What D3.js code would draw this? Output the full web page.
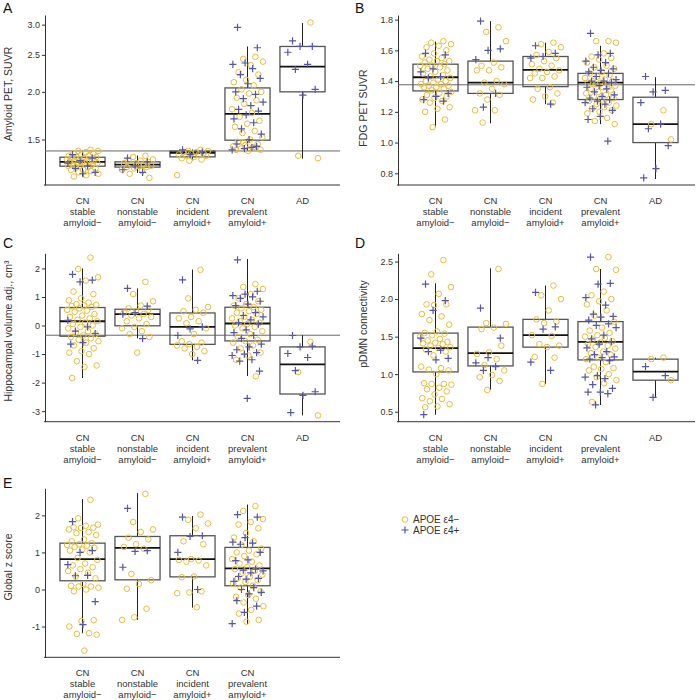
<!DOCTYPE html>
<html><head><meta charset="utf-8">
<script src="https://cdn.jsdelivr.net/npm/d3@7"></script>
<style>body{margin:0;background:#fff} svg{display:block} text{font-family:"Liberation Sans",Arial,sans-serif;fill:#333}</style>
</head><body><svg id="c" width="696" height="700"></svg>
<script>
const categories = [["CN","stable","amyloid−"],["CN","nonstable","amyloid−"],["CN","incident","amyloid+"],["CN","prevalent","amyloid+"],["AD"]];
const legendLabels = ["APOE ε4−","APOE ε4+"];

// A: Amyloid PET (log scale)
const amyloidTicks = [1.5,2.0,2.5,3.0];
const amyloidCut = 1.40;
const amyloidBox = [[1.20,1.277,1.311,1.348,1.395],[1.227,1.27,1.289,1.311,1.362],[1.322,1.351,1.385,1.398,1.412],[1.406,1.494,1.751,2.048,2.63],[1.336,2.0,2.33,2.63,3.03]];
const amyloidNeg = [
 [1.41,1.40,1.40,1.39,1.38,1.38,1.37,1.36,1.36,1.35,1.35,1.34,1.34,1.33,1.33,1.33,1.32,1.32,1.32,1.31,1.31,1.31,1.30,1.30,1.30,1.29,1.29,1.28,1.28,1.27,1.27,1.26,1.25,1.25,1.24,1.23,1.22,1.21,1.20],
 [1.36,1.35,1.33,1.32,1.32,1.31,1.30,1.30,1.29,1.29,1.28,1.28,1.27,1.27,1.26,1.25,1.24,1.22,1.19],
 [1.41,1.40,1.40,1.39,1.39,1.38,1.38,1.37,1.37,1.36,1.36,1.35,1.34,1.33,1.32,1.21],
 [2.47,2.44,2.40,2.35,2.25,2.22,2.15,2.12,2.08,2.03,2.00,1.98,1.93,1.90,1.86,1.80,1.76,1.72,1.68,1.65,1.62,1.58,1.56,1.52,1.50,1.48,1.46,1.45,1.44,1.43,1.42,1.41,1.40,1.41,1.43,1.47],
 [3.04,1.36,1.34]];
const amyloidPos = [
 [1.37,1.34,1.32,1.30,1.28,1.26,1.23,1.22],
 [1.34,1.31,1.28,1.25,1.23],
 [1.41,1.39,1.37],
 [2.95,2.61,2.38,2.36,2.30,2.22,2.17,2.10,2.00,1.97,1.92,1.88,1.84,1.80,1.78,1.74,1.70,1.66,1.60,1.55,1.50,1.46,1.44,1.42,1.41,1.43],
 [2.72,2.63,2.63,2.54,2.36,2.29,2.03,1.96]];

// B: FDG PET
const fdgTicks = [0.8,1.0,1.2,1.4,1.6,1.8];
const fdgCut = 1.376;
const fdgBox = [[1.10,1.336,1.425,1.51,1.657],[1.125,1.32,1.39,1.53,1.79],[1.25,1.364,1.473,1.56,1.65],[1.12,1.28,1.39,1.45,1.63],[0.763,1.0,1.12,1.295,1.425]];
const fdgNeg = [
 [1.66,1.65,1.64,1.63,1.62,1.60,1.58,1.56,1.55,1.54,1.53,1.53,1.52,1.51,1.50,1.50,1.49,1.48,1.47,1.46,1.45,1.44,1.43,1.42,1.41,1.40,1.40,1.39,1.38,1.38,1.37,1.37,1.36,1.36,1.35,1.34,1.33,1.32,1.31,1.30,1.29,1.28,1.27,1.26,1.23,1.22,1.20,1.15,1.10],
 [1.75,1.72,1.66,1.52,1.50,1.49,1.47,1.47,1.40,1.39,1.38,1.35,1.32,1.31,1.28,1.21,1.21,1.13],
 [1.65,1.64,1.62,1.59,1.57,1.55,1.53,1.51,1.50,1.48,1.47,1.46,1.45,1.43,1.42,1.42,1.36,1.35,1.32,1.30,1.28,1.26],
 [1.66,1.66,1.65,1.58,1.56,1.55,1.54,1.52,1.50,1.49,1.48,1.46,1.45,1.44,1.43,1.42,1.41,1.40,1.40,1.39,1.39,1.38,1.38,1.37,1.36,1.35,1.34,1.33,1.32,1.31,1.30,1.29,1.28,1.27,1.26,1.25,1.24,1.23,1.22,1.21,1.20,1.19,1.16,1.14,1.12],
 [1.21,1.12,1.02]];
const fdgPos = [
 [1.58,1.57,1.48,1.46,1.43,1.42,1.32,1.30,1.28,1.27],
 [1.79,1.61,1.60,1.54,1.32,1.23],
 [1.63,1.58,1.56,1.55,1.25],
 [1.71,1.58,1.57,1.53,1.52,1.49,1.48,1.47,1.46,1.45,1.43,1.41,1.40,1.40,1.39,1.37,1.36,1.35,1.33,1.31,1.30,1.29,1.28,1.27,1.26,1.25,1.22,1.21,1.17,1.15,1.01],
 [1.43,1.34,1.33,1.26,1.12,1.09,0.98,0.83,0.77]];

// C: Hippocampal volume
const hippoTicks = [-3,-2,-1,0,1,2];
const hippoCut = -0.34;
const hippoBox = [[-1.84,-0.375,0.15,0.63,2.0],[-0.45,-0.01,0.40,0.57,1.3],[-1.22,-0.66,-0.05,0.44,1.96],[-1.77,-0.54,0.07,0.64,2.33],[-3.15,-2.40,-1.36,-0.75,-0.34]];
const hippoNeg = [
 [2.38,1.98,1.69,1.57,1.19,1.10,0.95,0.88,0.80,0.75,0.73,0.70,0.68,0.65,0.60,0.55,0.52,0.48,0.40,0.35,0.30,0.25,0.20,0.15,0.10,0.05,0.0,-0.05,-0.10,-0.20,-0.25,-0.30,-0.35,-0.40,-0.45,-0.50,-0.55,-0.60,-0.70,-0.80,-0.90,-0.95,-1.00,-1.25,-1.40,-1.45,-1.84],
 [1.53,1.10,0.85,0.70,0.60,0.55,0.50,0.45,0.40,0.35,0.30,0.25,0.15,0.05,-0.05,-0.10,-0.20,-0.30,-0.40,-0.95],
 [1.95,0.95,0.65,0.55,0.50,0.45,0.30,0.25,0.15,0.08,-0.10,-0.30,-0.55,-0.60,-0.65,-0.70,-0.75,-0.80,-0.90,-1.00],
 [1.45,1.35,1.28,1.10,0.95,0.85,0.75,0.70,0.65,0.60,0.55,0.50,0.45,0.40,0.30,0.25,0.20,0.15,0.10,0.05,0.0,-0.05,-0.10,-0.20,-0.30,-0.40,-0.50,-0.55,-0.60,-0.70,-0.80,-0.95,-1.05,-1.20,-1.78],
 [-0.57,-1.63,-3.15]];
const hippoPos = [
 [1.79,1.59,1.53,0.18,-0.05,-0.20,-0.28,-0.60,-0.65],
 [1.30,0.68,0.45,0.40,-0.46],
 [1.60,-0.05,-0.12,-0.35,-1.22],
 [2.30,1.20,1.10,1.05,1.00,0.95,0.85,0.75,0.70,0.45,0.35,0.30,0.20,0.10,0.05,-0.15,-0.25,-0.35,-0.45,-0.65,-0.75,-0.85,-0.95,-1.00,-1.05,-1.20,-1.25,-1.60,-2.55],
 [-0.35,-0.72,-0.75,-0.98,-1.12,-1.58,-2.32,-2.45,-3.05]];

// D: pDMN connectivity
const dmnTicks = [0.5,1.0,1.5,2.0,2.5];
const dmnBox = [[0.46,1.03,1.347,1.547,2.21],[0.79,1.11,1.28,1.627,2.41],[0.87,1.36,1.52,1.73,2.18],[0.59,1.19,1.43,1.70,2.40],[0.69,0.92,1.035,1.20,1.22]];
const dmnNeg = [
 [2.52,2.33,2.16,2.07,1.93,1.93,1.92,1.80,1.77,1.72,1.66,1.57,1.55,1.54,1.52,1.50,1.47,1.45,1.43,1.42,1.41,1.40,1.38,1.36,1.35,1.33,1.30,1.25,1.10,1.08,1.06,1.05,1.00,0.88,0.87,0.87,0.86,0.82,0.80,0.77,0.73,0.68,0.67,0.64,0.60,0.57,0.56],
 [2.40,1.68,1.67,1.62,1.60,1.38,1.29,1.27,1.20,1.12,1.05,0.99,0.96,0.91,0.79],
 [2.18,2.05,2.00,1.85,1.73,1.70,1.68,1.52,1.51,1.40,1.38,1.36,1.23,1.22,0.87],
 [2.56,2.40,2.39,2.10,2.05,2.00,1.97,1.93,1.85,1.78,1.70,1.62,1.58,1.55,1.52,1.50,1.48,1.46,1.44,1.42,1.40,1.38,1.36,1.34,1.30,1.28,1.26,1.22,1.20,1.16,1.10,1.08,1.07,1.05,1.00,0.96,0.92,0.88,0.63],
 [1.22,1.20,0.92]];
const dmnPos = [
 [2.20,1.98,1.85,1.48,1.32,1.30,1.21,1.19,0.46],
 [1.88,1.48,1.22,1.15,1.10,1.05],
 [2.09,1.63,1.60,1.16,1.05],
 [2.56,2.21,2.20,2.02,1.92,1.80,1.77,1.76,1.72,1.67,1.65,1.62,1.52,1.47,1.43,1.40,1.35,1.30,1.26,1.23,1.22,1.20,1.18,0.98,0.96,0.94,0.86,0.81,0.76,0.76,0.74,0.59],
 [1.10,0.98,0.69]];

// E: Global z score
const zTicks = [-1,0,1,2];
const zBox = [[-1.18,0.235,0.82,1.25,2.44],[-0.82,0.26,1.12,1.43,2.6],[-0.49,0.34,0.82,1.45,1.98],[-0.93,0.10,0.57,1.135,2.29]];
const zNeg = [
 [2.42,1.92,1.75,1.72,1.68,1.67,1.66,1.62,1.55,1.52,1.47,1.35,1.30,1.25,1.22,1.20,1.18,1.15,1.12,1.08,1.05,1.00,0.85,0.80,0.70,0.65,0.60,0.55,0.50,0.45,0.35,0.30,0.15,0.10,0.08,0.08,0.05,0.0,-0.05,-0.83,-0.85,-1.00,-1.18,-1.20,-1.22,-1.65],
 [2.58,1.82,1.62,1.55,1.40,1.35,1.22,1.15,1.10,0.42,0.25,0.15,0.02,-0.52,-0.75,-0.82],
 [2.02,1.88,1.78,1.65,1.30,1.22,0.82,0.80,0.78,0.75,0.65,0.35,0.33,-0.05,-0.08,-0.10,-0.48],
 [2.25,2.12,1.90,1.82,1.75,1.65,1.52,1.40,1.30,1.20,1.10,1.05,1.00,0.95,0.90,0.82,0.75,0.70,0.65,0.60,0.55,0.50,0.45,0.40,0.35,0.30,0.25,0.20,0.15,0.10,0.05,-0.05,-0.15,-0.20,-0.25,-0.35,-0.45,-0.55,-0.65,-0.82,-0.87]];
const zPos = [
 [1.83,1.05,1.00,0.67,0.38,0.37,-0.33,-0.95],
 [2.19,1.05,1.03,0.60],
 [1.95,1.45,1.43,1.00,0.0],
 [2.02,1.95,1.40,1.28,1.25,1.22,1.00,0.80,0.78,0.55,0.52,0.50,0.45,0.35,0.30,0.28,0.22,0.05,0.0,-0.08,-0.12,-0.30,-0.45,-0.62,-0.92]];

const panels = [
 {letter:"A", lx:3, ly:13, x0:45, x1:340, y0:15, y1:185, dom:[1.14,3.18], log:true, ticks:amyloidTicks, fmt:d3.format(".1f"), label:"Amyloid PET, SUVR", labX:12, labY:94, cut:amyloidCut, box:amyloidBox, neg:amyloidNeg, pos:amyloidPos},
 {letter:"B", lx:355, ly:13, x0:398, x1:695, y0:15, y1:185, dom:[0.724,1.83], ticks:fdgTicks, fmt:d3.format(".1f"), label:"FDG PET SUVR", labX:367, labY:108, cut:fdgCut, box:fdgBox, neg:fdgNeg, pos:fdgPos},
 {letter:"C", lx:3, ly:248, x0:45, x1:340, y0:253.3, y1:421.7, dom:[-3.37,2.53], ticks:hippoTicks, fmt:d=>String(d), label:"Hippocampal volume adj., cm³", labX:12, labY:331, cut:hippoCut, box:hippoBox, neg:hippoNeg, pos:hippoPos},
 {letter:"D", lx:355, ly:248, x0:398, x1:695, y0:253.3, y1:421.7, dom:[0.367,2.61], ticks:dmnTicks, fmt:d3.format(".1f"), label:"pDMN connectivity", labX:367, labY:324, cut:null, box:dmnBox, neg:dmnNeg, pos:dmnPos},
 {letter:"E", lx:3, ly:488, x0:45, x1:340, y0:488.3, y1:657.3, dom:[-1.83,2.73], ticks:zTicks, fmt:d=>String(d), label:"Global z score", labX:12, labY:567, cut:null, box:zBox, neg:zNeg, pos:zPos}
];

const svg = d3.select("#c");
const gold = "#E8BE3A", purple = "#5656A2";
const jit = (i, s) => ((((i + 1) * 0.6180339887 + s) % 1) - 0.5) * 32;

function cross(g, x, y){
  g.append("path").attr("d", `M${x-3.6},${y}H${x+3.6}M${x},${y-3.6}V${y+3.6}`)
   .attr("stroke", purple).attr("stroke-width", 1.2).attr("fill","none");
}

panels.forEach(p => {
  const g = svg.append("g");
  const y = (p.log ? d3.scaleLog() : d3.scaleLinear()).domain(p.dom).range([p.y1, p.y0]);
  const x = d3.scaleBand().domain(d3.range(5)).range([p.x0 + 10, p.x0 + 285]);
  const bw = x.bandwidth(), boxW = bw * 0.82;
  const cx = i => x(i) + bw / 2;

  g.append("text").attr("x", p.lx).attr("y", p.ly).attr("font-size", 14).style("fill","#111").text(p.letter);

  // axes
  const ax = g.append("g").attr("transform", `translate(${p.x0},0)`)
    .call(d3.axisLeft(y).tickValues(p.ticks).tickFormat(p.fmt).tickSize(3).tickPadding(2).tickSizeOuter(0));
  ax.select(".domain").attr("stroke", "#333");
  ax.selectAll(".tick line").attr("stroke", "#333");
  ax.selectAll(".tick text").attr("font-size", 9).style("fill","#333").attr("font-family", '"Liberation Sans",Arial,sans-serif');
  g.append("line").attr("x1", p.x0 - 1).attr("x2", p.x1).attr("y1", p.y1).attr("y2", p.y1).attr("stroke", "#333");

  g.append("text").attr("transform", `translate(${p.labX},${p.labY}) rotate(-90)`)
    .attr("text-anchor","middle").attr("font-size", 10.5).text(p.label);

  // category labels
  p.box.forEach((b, i) => {
    const t = g.append("text").attr("text-anchor","middle").attr("font-size", 9.5).style("fill","#333");
    categories[i].forEach((ln, k) => t.append("tspan").attr("x", cx(i)).attr("y", p.y1 + 19 + k * 11).text(ln));
  });

  if (p.cut !== null) {
    g.append("line").attr("x1", p.x0).attr("x2", p.x1).attr("y1", y(p.cut)).attr("y2", y(p.cut))
      .attr("stroke", "#666").attr("stroke-width", 1);
  }

  // boxes
  p.box.forEach((b, i) => {
    const [lo, q1, md, q3, hi] = b;
    g.append("line").attr("x1", cx(i)).attr("x2", cx(i)).attr("y1", y(hi)).attr("y2", y(q3)).attr("stroke", "#222");
    g.append("line").attr("x1", cx(i)).attr("x2", cx(i)).attr("y1", y(q1)).attr("y2", y(lo)).attr("stroke", "#222");
    g.append("rect").attr("x", cx(i) - boxW/2).attr("y", y(q3)).attr("width", boxW).attr("height", y(q1) - y(q3))
      .attr("fill","none").attr("stroke", "#555").attr("stroke-width", 1.3);
    g.append("line").attr("x1", cx(i) - boxW/2).attr("x2", cx(i) + boxW/2).attr("y1", y(md)).attr("y2", y(md))
      .attr("stroke", "#111").attr("stroke-width", 1.8);
  });

  // points
  p.neg.forEach((vals, i) => vals.forEach((v, j) => {
    g.append("circle").attr("cx", cx(i) + jit(j, 0.13)).attr("cy", y(v)).attr("r", 2.8)
      .attr("fill","none").attr("stroke", gold).attr("stroke-width", 1);
  }));
  p.pos.forEach((vals, i) => vals.forEach((v, j) => cross(g, cx(i) + jit(j, 0.57), y(v))));
});

// legend
const lg = svg.append("g");
lg.append("circle").attr("cx", 405).attr("cy", 519.5).attr("r", 2.8).attr("fill","none").attr("stroke", gold).attr("stroke-width", 1);
cross(lg, 405, 530);
legendLabels.forEach((t, i) => lg.append("text").attr("x", 413).attr("y", 523 + i * 10.5).attr("font-size", 10).text(t));
</script></body></html>
